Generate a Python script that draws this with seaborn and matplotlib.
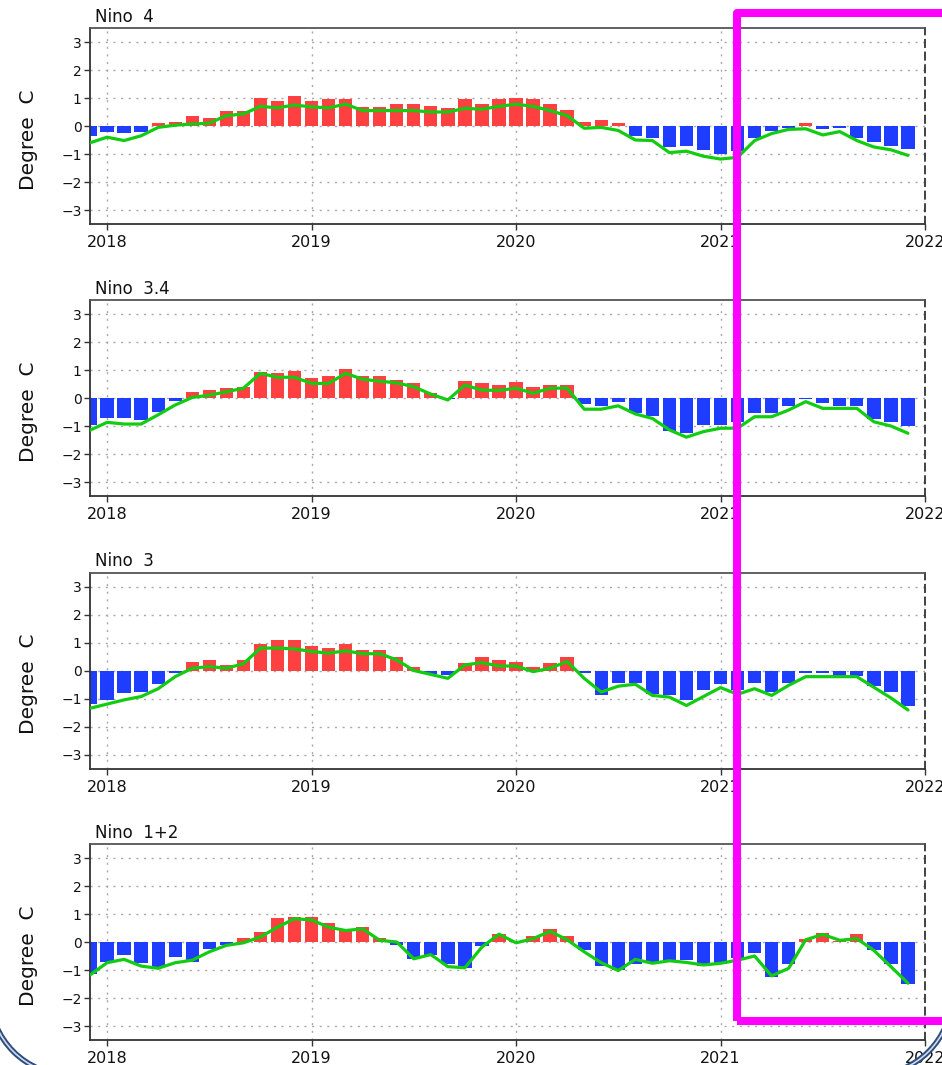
import numpy as np
import pandas as pd
import matplotlib
matplotlib.use("Agg")
import matplotlib.pyplot as plt
import seaborn as sns
from matplotlib.patches import Rectangle, Arc

# ---------------- data ----------------
months = pd.date_range("2017-12-01", "2021-12-01", freq="MS")
year_ticks = [2018, 2019, 2020, 2021, 2022]
year_labels = ["2018", "2019", "2020", "2021", "2022"]
y_ticks = [-3, -2, -1, 0, 1, 2, 3]
titles = ["Nino  4", "Nino  3.4", "Nino  3", "Nino  1+2"]

nino4_bar = [-0.35,
             -0.22, -0.25, -0.20, 0.10, 0.15, 0.35, 0.28, 0.55, 0.55, 0.99, 0.90, 1.07,
             0.90, 0.95, 0.95, 0.68, 0.68, 0.80, 0.80, 0.70, 0.63, 0.95, 0.80, 0.95,
             1.00, 0.95, 0.80, 0.58, 0.13, 0.20, 0.12, -0.37, -0.42, -0.75, -0.70, -0.85,
             -1.00, -0.90, -0.42, -0.17, -0.08, 0.12, -0.10, -0.07, -0.42, -0.57, -0.70, -0.82]
nino4_line = [-0.60,
              -0.40, -0.52, -0.35, -0.05, 0.03, 0.07, 0.10, 0.37, 0.43, 0.70, 0.65, 0.75,
              0.68, 0.65, 0.78, 0.55, 0.55, 0.55, 0.55, 0.50, 0.50, 0.63, 0.60, 0.70,
              0.78, 0.70, 0.55, 0.37, -0.08, -0.05, -0.16, -0.50, -0.52, -0.95, -0.90, -1.08,
              -1.18, -1.12, -0.52, -0.27, -0.12, -0.10, -0.32, -0.20, -0.52, -0.75, -0.85, -1.05]

nino34_bar = [-0.97,
              -0.73, -0.73, -0.80, -0.50, -0.12, 0.22, 0.28, 0.35, 0.38, 0.93, 0.90, 0.97,
              0.70, 0.78, 1.02, 0.78, 0.80, 0.66, 0.52, 0.19, -0.05, 0.60, 0.52, 0.46,
              0.56, 0.40, 0.48, 0.46, -0.23, -0.28, -0.13, -0.55, -0.64, -1.17, -1.25, -0.97,
              -0.97, -0.85, -0.52, -0.55, -0.27, -0.05, -0.17, -0.27, -0.27, -0.76, -0.85, -1.00]
nino34_line = [-1.15,
               -0.87, -0.93, -0.93, -0.60, -0.25, 0.02, 0.10, 0.22, 0.35, 0.88, 0.74, 0.74,
               0.52, 0.52, 0.88, 0.67, 0.60, 0.54, 0.40, 0.14, -0.07, 0.46, 0.28, 0.27,
               0.35, 0.17, 0.35, 0.35, -0.40, -0.40, -0.28, -0.57, -0.73, -1.14, -1.40, -1.20,
               -1.08, -1.08, -0.67, -0.67, -0.43, -0.13, -0.37, -0.37, -0.37, -0.85, -1.00, -1.26]

nino3_bar = [-1.19,
             -1.07, -0.80, -0.75, -0.47, -0.10, 0.32, 0.38, 0.20, 0.38, 0.93, 1.08, 1.08,
             0.87, 0.80, 0.93, 0.75, 0.75, 0.48, 0.14, -0.14, -0.16, 0.26, 0.47, 0.36,
             0.30, 0.14, 0.26, 0.47, -0.10, -0.89, -0.44, -0.44, -0.83, -0.89, -1.07, -0.71,
             -0.49, -0.71, -0.44, -0.77, -0.44, -0.10, -0.10, -0.20, -0.20, -0.55, -0.75, -1.25]
nino3_line = [-1.35,
              -1.20, -1.05, -0.93, -0.65, -0.22, 0.08, 0.14, 0.08, 0.24, 0.80, 0.80, 0.77,
              0.68, 0.62, 0.70, 0.60, 0.60, 0.38, 0.00, -0.14, -0.28, 0.20, 0.28, 0.16,
              0.16, -0.04, 0.08, 0.32, -0.28, -0.77, -0.56, -0.49, -0.89, -0.95, -1.25, -0.93,
              -0.61, -0.85, -0.65, -0.89, -0.53, -0.22, -0.22, -0.22, -0.22, -0.60, -0.98, -1.41]

nino12_bar = [-1.14,
              -0.71, -0.47, -0.76, -0.90, -0.55, -0.71, -0.24, -0.12, 0.15, 0.35, 0.85, 0.91,
              0.91, 0.67, 0.47, 0.53, 0.15, -0.10, -0.60, -0.48, -0.78, -0.92, -0.15, 0.30,
              0.05, 0.22, 0.45, 0.22, -0.27, -0.85, -1.00, -0.78, -0.70, -0.70, -0.65, -0.85,
              -0.77, -0.57, -0.41, -1.25, -0.80, 0.10, 0.33, 0.05, 0.30, -0.27, -0.80, -1.50]
nino12_line = [-1.18,
               -0.74, -0.62, -0.86, -0.94, -0.74, -0.65, -0.35, -0.12, -0.03, 0.18, 0.53, 0.83,
               0.79, 0.53, 0.41, 0.47, 0.06, 0.00, -0.60, -0.45, -0.88, -0.92, -0.18, 0.28,
               -0.03, 0.12, 0.38, 0.08, -0.35, -0.74, -1.02, -0.62, -0.76, -0.67, -0.73, -0.82,
               -0.76, -0.65, -0.50, -1.21, -0.94, 0.08, 0.27, 0.06, 0.12, -0.30, -0.88, -1.47]

bars = [nino4_bar, nino34_bar, nino3_bar, nino12_bar]
lines = [nino4_line, nino34_line, nino3_line, nino12_line]

# ---------------- style ----------------
sns.set_style("white")
plt.rcParams["font.family"] = ["DejaVu Sans"]

RED = "#ff4040"
BLUE = "#1f3dff"
GREEN = "#11cc11"
GRID = "#a8a8a8"

W, H = 942, 1065
fig = plt.figure(figsize=(W / 100, H / 100), dpi=100)

xnum = months.year + (months.month - 1) / 12.0

ax_left, ax_right = 90, 925
panel_tops = [28, 300, 572.5, 844]
panel_h = 196

for i in range(4):
    top = panel_tops[i]
    ax = fig.add_axes([ax_left / W, 1 - (top + panel_h) / H,
                       (ax_right - ax_left) / W, panel_h / H])
    df = pd.DataFrame({"x": xnum, "v": bars[i], "line": lines[i]})
    df["sign"] = np.where(df["v"] >= 0, "pos", "neg")
    sns.barplot(data=df, x="x", y="v", hue="sign", palette={"pos": RED, "neg": BLUE},
                native_scale=True, dodge=False, width=0.78, errorbar=None,
                saturation=1, legend=False, ax=ax, linewidth=0, zorder=2)
    sns.lineplot(data=df, x="x", y="line", color=GREEN, lw=2.3, ax=ax, zorder=3)

    ax.set_xlim(2017 + 11 / 12, 2022.0)
    ax.set_ylim(-3.5, 3.5)
    ax.set_xticks(year_ticks)
    ax.set_xticklabels(year_labels, fontsize=11.5)
    ax.set_yticks(y_ticks)
    ax.set_yticklabels([str(t).replace("-", "\u2212") for t in y_ticks], fontsize=10)
    ax.tick_params(axis="both", direction="out", length=4, width=1, color="#333333",
                   left=True, bottom=True, labelcolor="#111111")
    ax.tick_params(axis="x", pad=4)
    ax.tick_params(axis="y", pad=2)
    ax.grid(True, axis="both", linestyle=(0, (1.5, 4)), color=GRID, lw=1, zorder=0)
    ax.set_axisbelow(True)
    ax.set_xlabel("")
    ax.set_ylabel("Degree  C", fontsize=14.5, color="#111111")
    ax.yaxis.set_label_coords(-0.062, 0.43)
    for s in ["left", "bottom", "top"]:
        ax.spines[s].set_color("#333333")
        ax.spines[s].set_linewidth(1.3)
    ax.spines["top"].set_color("#555555")
    ax.spines["right"].set_linestyle((0, (4, 3)))
    ax.spines["right"].set_color("#333333")
    ax.spines["right"].set_linewidth(1.3)
    ax.text(0.006, 1.012, titles[i], transform=ax.transAxes, ha="left", va="bottom",
            fontsize=12, color="#111111")

# magenta highlight box (annotation on the image)
box = Rectangle((737 / 100, (H - 1021) / 100), 3.0, (1021 - 13) / 100,
                transform=fig.dpi_scale_trans, fill=False, edgecolor="#ff00ff",
                linewidth=5.8, joinstyle="round", clip_on=False, zorder=10)
fig.add_artist(box)

# rounded frame corners at the bottom of the image
for cx, th1, th2 in [(70, 180, 270), (872, 270, 360)]:
    for lw, col in [(4.0, "#2f4c7c"), (1.2, "#cfdcf0")]:
        arc = Arc((cx / 100, (H - 995) / 100), 1.6, 1.6, theta1=th1, theta2=th2,
                  transform=fig.dpi_scale_trans, color=col, lw=lw, zorder=11)
        fig.add_artist(arc)

fig.savefig("out.png", dpi=100)
